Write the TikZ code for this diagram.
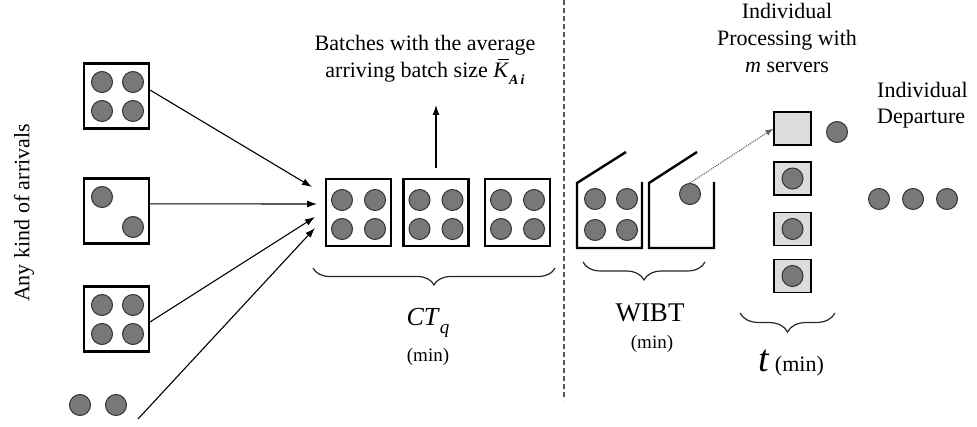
\documentclass[tikz,border=0pt]{standalone}
\usepackage{fontspec}
\setmainfont{Liberation Serif}
\usetikzlibrary{arrows.meta,decorations.pathreplacing,calc}

\definecolor{dotfill}{HTML}{787878}
\definecolor{dotline}{HTML}{333333}
\definecolor{srvfill}{HTML}{DCDCDC}

\newcommand\fs[2]{\fontsize{#1}{#2}\selectfont}
% average arriving batch size, K with a bar and a bold italic index
\newcommand\avgK{\leavevmode\rlap{\kern0.22em\raisebox{0.78em}{\rule{0.48em}{0.06em}}}\textit{K}\raisebox{-0.35em}{\fs{14}{16}\bfseries\itshape A\,i}}

\tikzset{
  ball/.style={circle,draw=dotline,fill=dotfill,line width=1pt,minimum size=21pt,inner sep=0pt},
  batch/.style={draw=black,line width=2.2pt,minimum width=65pt,minimum height=65pt,inner sep=0pt},
  qbatch/.style={batch,minimum height=67pt},
  server/.style={draw=black,fill=srvfill,line width=1.3pt,minimum width=37pt,minimum height=33pt,inner sep=0pt},
  flow/.style={-{Latex[length=10pt,width=7pt]},line width=1.1pt},
  transfer/.style={-{Latex[length=8pt,width=6pt]},gray!80!black,densely dotted,line width=1.1pt},
  bin/.style={line width=2.4pt,line join=miter},
  divider/.style={gray!70!black,dash pattern=on 5pt off 3pt,line width=1.5pt},
  span/.style={decorate,decoration={brace,amplitude=#1,aspect=0.5},line width=1.2pt,draw=black!85},
  lbl/.style={font=\fs{22}{27},align=center,inner sep=0pt}
}

\begin{document}
\begin{tikzpicture}[x=1pt,y=-1pt]
\useasboundingbox (0,0) rectangle (977,427);

% ---- arrivals ----
\node[lbl,rotate=90] (arrivals) at (24,213) {Any kind of arrivals};
\node[batch] (b1) at (116.5,96) {};
\node[batch] (b2) at (116.5,211) {};
\node[batch] (b3) at (116.5,319) {};
\foreach \b in {b1,b3}{
  \foreach \dx/\dy [count=\i] in {-14.5/-14, 16.5/-14, -14.5/15, 16.5/15}
    \node[ball] (\b d\i) at ($(\b)+(\dx,\dy)$) {};
}
\node[ball] (b2d1) at ($(b2)+(-14.5,-14)$) {};
\node[ball] (b2d2) at ($(b2)+(16.5,16)$) {};
\node[ball] (a1) at (80,405) {};
\node[ball] (a2) at (116,405) {};
\coordinate (a0) at (138,419);

\coordinate (t1) at (312,187);
\coordinate (t2) at (317,204);
\coordinate (t3) at (315,217);
\coordinate (t4) at (315,228);
\draw[flow] (b1.10) -- (t1);
\draw[flow] (b2.12) -- (t2);
\draw[flow] (b3.-5) -- (t3);
\draw[flow] (a0) -- (t4);

% ---- batches in queue ----
\foreach \q/\x in {q1/358.5,q2/436,q3/517.5}{
  \node[qbatch] (\q) at (\x,212.5) {};
  \foreach \dx/\dy [count=\i] in {-16.5/-12.5, 16.5/-12.5, -16.5/16.5, 16.5/16.5}
    \node[ball] (\q d\i) at ($(\q)+(\dx,\dy)$) {};
}
\node[lbl] (avg) at (425,60) {Batches with the average\\arriving batch size \avgK};
\coordinate (up) at (436,105);
\draw[flow] ($(q2.north)+(0,-10)$) -- (up);

% ---- divider ----
\coordinate (dtop) at (564,0);
\coordinate (dbot) at (564,400);
\draw[divider] (dtop) -- (dbot);

% ---- bins waiting for individual processing ----
\draw[bin] (626,152) -- (577,183) -- (577,248) -- (642,248) -- (642,182);
\draw[bin] (697,152) -- (649,183) -- (649,248) -- (714,248) -- (714,182);
\node[ball] (w1) at (595,199) {};
\node[ball] (w2) at (627,199) {};
\node[ball] (w3) at (595,230) {};
\node[ball] (w4) at (627,230) {};
\node[ball] (w5) at (690,194) {};

% ---- servers ----
\node[server] (s1) at (792.5,128.5) {};
\node[server] (s2) at (792.5,178.5) {};
\node[server] (s3) at (792.5,229) {};
\node[server] (s4) at (792.5,276) {};
\node[ball] (p2) at (s2) {};
\node[ball] (p3) at (s3) {};
\node[ball] (p4) at (s4) {};
\draw[transfer] (w5.north) -- (s1.west);
\node[lbl] (proc) at (787,37.5) {Individual\\Processing with\\\textit{m} servers};

% ---- departures ----
\node[ball] (o1) at (837,132) {};
\node[ball] (o2) at (879,199) {};
\node[ball] (o3) at (913,199) {};
\node[ball] (o4) at (947,199) {};
\node[lbl,align=left,anchor=west,font=\fs{22}{26}] (dep) at (877,105) {Individual\\Departure};

% ---- time spans ----
\coordinate (c1) at (313,268);
\coordinate (c2) at (555,268);
\coordinate (w1a) at (583,262);
\coordinate (w2a) at (705,262);
\coordinate (r1) at (740,313);
\coordinate (r2) at (835,313);
\draw[span=17pt] (c2) -- (c1);
\draw[span=18pt] (w2a) -- (w1a);
\draw[span=19pt] (r2) -- (r1);

\node[lbl] (ctq) at (428,323) {\fs{26}{30}\textit{CT}\raisebox{-0.3em}{\fs{19}{20}\textit{q}}};
\node[lbl,font=\fs{19}{22}] (ctmin) at (428,357) {(min)};
\node[lbl,font=\fs{27}{30}] (wibt) at (650,313) {WIBT};
\node[lbl,font=\fs{19}{22}] (wibtmin) at (652,344) {(min)};
\node[lbl] (tmin) at (791,363) {{\fs{38}{40}\textit{t}} {\fs{22}{24}(min)}};
\end{tikzpicture}
\end{document}
